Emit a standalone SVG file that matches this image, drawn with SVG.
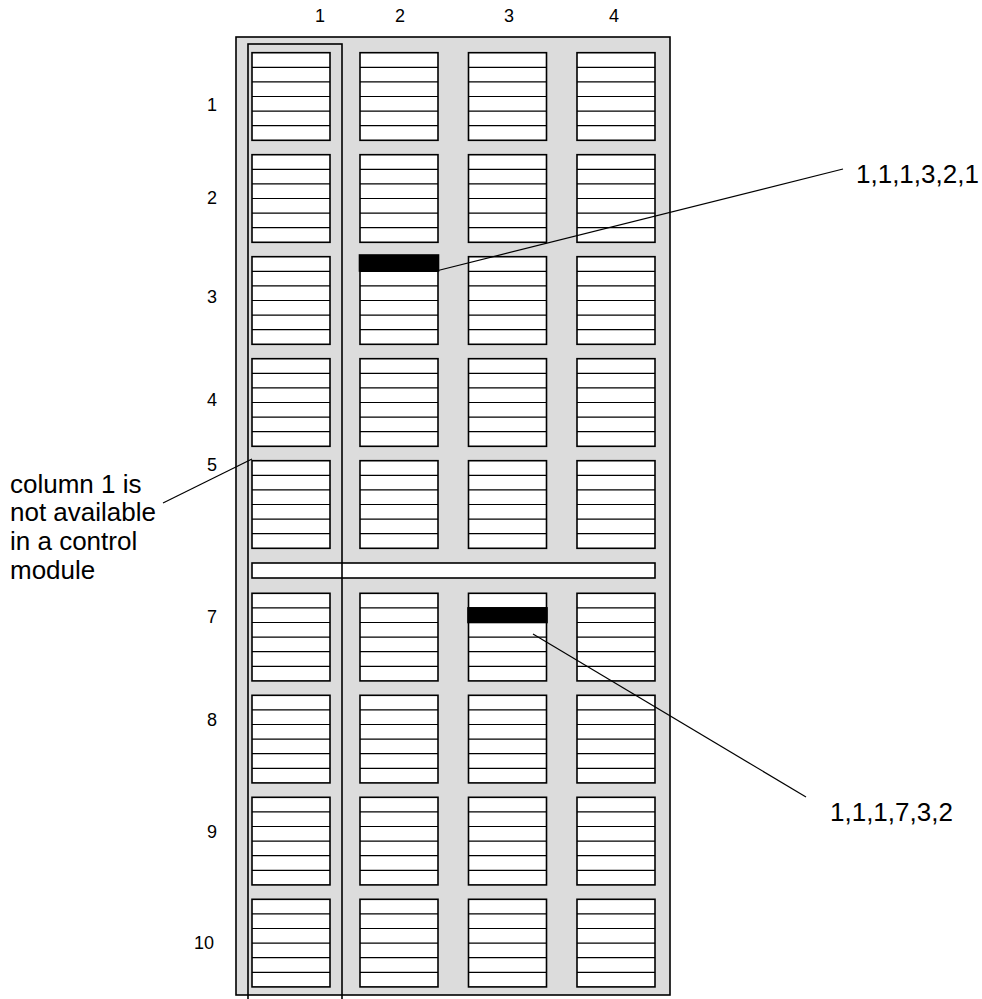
<svg xmlns="http://www.w3.org/2000/svg" xmlns:xlink="http://www.w3.org/1999/xlink" width="982" height="999" viewBox="0 0 982 999">
<style>
.lbl{font-family:"Liberation Sans",Arial,sans-serif;font-size:18px;fill:#000;text-anchor:middle}
.txt{font-family:"Liberation Sans",Arial,sans-serif;font-size:26px;fill:#000}
.box{fill:#fff;stroke:#000;stroke-width:1.6}
.ln{stroke:#000;stroke-width:1.2;fill:none}
.blk{fill:#000}
</style>
<defs>
<g id="slot">
<rect class="box" x="0" y="0" width="78" height="87.6"/>
<path class="ln" stroke-width="1.6" d="M0 14.6H78M0 29.2H78M0 43.8H78M0 58.4H78M0 73H78"/>
</g>
</defs>
<g id="chassis">
<rect x="236" y="37" width="434" height="958" fill="#dcdcdc" stroke="#000" stroke-width="1.6"/>
</g>
<g id="col-labels">
<text class="lbl" x="320" y="22">1</text>
<text class="lbl" x="400" y="22">2</text>
<text class="lbl" x="509" y="22">3</text>
<text class="lbl" x="614" y="22">4</text>
</g>
<g id="row-labels">
<text class="lbl" x="212" y="111">1</text>
<text class="lbl" x="212" y="204">2</text>
<text class="lbl" x="212" y="303">3</text>
<text class="lbl" x="212" y="406">4</text>
<text class="lbl" x="212" y="471">5</text>
<text class="lbl" x="212" y="623">7</text>
<text class="lbl" x="212" y="726">8</text>
<text class="lbl" x="212" y="838">9</text>
<text class="lbl" x="204" y="949">10</text>
</g>
<g id="slots">
<use xlink:href="#slot" x="252" y="52.7"/><use xlink:href="#slot" x="360" y="52.7"/><use xlink:href="#slot" x="468.5" y="52.7"/><use xlink:href="#slot" x="577" y="52.7"/>
<use xlink:href="#slot" x="252" y="154.7"/><use xlink:href="#slot" x="360" y="154.7"/><use xlink:href="#slot" x="468.5" y="154.7"/><use xlink:href="#slot" x="577" y="154.7"/>
<use xlink:href="#slot" x="252" y="256.7"/><use xlink:href="#slot" x="360" y="256.7"/><use xlink:href="#slot" x="468.5" y="256.7"/><use xlink:href="#slot" x="577" y="256.7"/>
<use xlink:href="#slot" x="252" y="358.7"/><use xlink:href="#slot" x="360" y="358.7"/><use xlink:href="#slot" x="468.5" y="358.7"/><use xlink:href="#slot" x="577" y="358.7"/>
<use xlink:href="#slot" x="252" y="460.7"/><use xlink:href="#slot" x="360" y="460.7"/><use xlink:href="#slot" x="468.5" y="460.7"/><use xlink:href="#slot" x="577" y="460.7"/>
<use xlink:href="#slot" x="252" y="593.3"/><use xlink:href="#slot" x="360" y="593.3"/><use xlink:href="#slot" x="468.5" y="593.3"/><use xlink:href="#slot" x="577" y="593.3"/>
<use xlink:href="#slot" x="252" y="695.3"/><use xlink:href="#slot" x="360" y="695.3"/><use xlink:href="#slot" x="468.5" y="695.3"/><use xlink:href="#slot" x="577" y="695.3"/>
<use xlink:href="#slot" x="252" y="797.3"/><use xlink:href="#slot" x="360" y="797.3"/><use xlink:href="#slot" x="468.5" y="797.3"/><use xlink:href="#slot" x="577" y="797.3"/>
<use xlink:href="#slot" x="252" y="899.3"/><use xlink:href="#slot" x="360" y="899.3"/><use xlink:href="#slot" x="468.5" y="899.3"/><use xlink:href="#slot" x="577" y="899.3"/>
</g>
<g id="bar">
<rect class="box" x="252" y="563" width="403" height="15"/>
</g>
<g id="highlight-1-1-1-3-2-1">
<rect class="blk" x="359.5" y="255" width="79" height="16" stroke="#000" stroke-width="1.6"/>
</g>
<g id="highlight-1-1-1-7-3-2">
<rect class="blk" x="468" y="607.9" width="79" height="14.6" stroke="#000" stroke-width="1.6"/>
</g>
<g id="column1-frame">
<rect x="248" y="44" width="94" height="970" fill="none" stroke="#000" stroke-width="1.6"/>
</g>
<g id="connectors">
<line class="ln" x1="436" y1="271" x2="843" y2="169"/>
<line class="ln" x1="533" y1="634" x2="806" y2="797"/>
<line class="ln" x1="252" y1="459" x2="163" y2="503"/>
</g>
<g id="label-top">
<text class="txt" x="856" y="183">1,1,1,3,2,1</text>
</g>
<g id="label-bottom">
<text class="txt" x="830" y="821">1,1,1,7,3,2</text>
</g>
<g id="label-col1">
<text class="txt" x="10" y="493">column 1 is</text>
<text class="txt" x="10" y="521">not available</text>
<text class="txt" x="10" y="550">in a control</text>
<text class="txt" x="10" y="579">module</text>
</g>
</svg>
